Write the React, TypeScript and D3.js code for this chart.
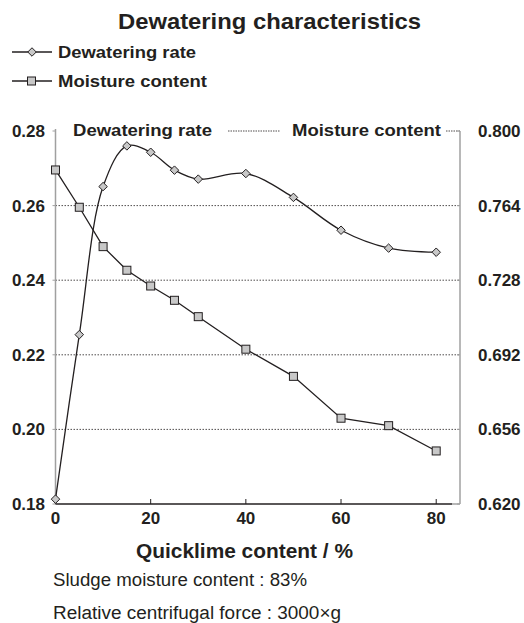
import React from "react";
import * as d3 from "d3";

const quicklime = [0, 5, 10, 15, 20, 25, 30, 40, 50, 60, 70, 80];
const dewateringRate = [0.1813, 0.2254, 0.2651, 0.276, 0.2743, 0.2695, 0.2671, 0.2686, 0.2622, 0.2534, 0.2486, 0.2475];
const moistureContent = [0.7812, 0.7632, 0.7442, 0.7328, 0.7252, 0.7183, 0.7104, 0.6947, 0.6816, 0.6614, 0.6578, 0.6456];
const xTicks = [0, 20, 40, 60, 80];
const leftTicks = [0.18, 0.2, 0.22, 0.24, 0.26, 0.28];
const rightTicks = [0.62, 0.656, 0.692, 0.728, 0.764, 0.8];

const W = 524, H = 623;
const L = 55.5, R = 460, T = 131, B = 504;

export default function App() {
  const x = d3.scaleLinear().domain([0, 85]).range([L, R]);
  const yL = d3.scaleLinear().domain([0.18, 0.28]).range([B, T]);
  const yR = d3.scaleLinear().domain([0.62, 0.8]).range([B, T]);
  const dwLine = d3.line<number>().x((_, i) => x(quicklime[i])).y((d) => yL(d)).curve(d3.curveCatmullRom.alpha(0.5));
  const mcLine = d3.line<number>().x((_, i) => x(quicklime[i])).y((d) => yR(d));
  const font = "Liberation Sans, Arial, sans-serif";
  const ink = "#231f20";
  const gray = "#a0a0a0";
  const gridTicks = leftTicks.filter((t) => t > 0.185 && t < 0.275);
  const diamond = d3.symbol(d3.symbolDiamond2, 46)()!;
  return (
    <svg width={W} height={H} style={{ position: "absolute", left: 0, top: 0 }} fontFamily={font}>
      <rect width={W} height={H} fill="#fff" />
      <text x={118} y={29} fontWeight="bold" fontSize={22} fill={ink} textLength={303} lengthAdjust="spacingAndGlyphs">Dewatering characteristics</text>
      {/* legend */}
      <line x1={12} x2={52} y1={52} y2={52} stroke={ink} strokeWidth={1.3} />
      <path d={diamond} transform="translate(32,52)" fill="#c8c8c8" stroke={ink} strokeWidth={1} />
      <text x={58} y={58} fontWeight="bold" fontSize={17} fill={ink} textLength={138} lengthAdjust="spacingAndGlyphs">Dewatering rate</text>
      <line x1={12} x2={52} y1={81} y2={81} stroke={ink} strokeWidth={1.3} />
      <rect x={27.5} y={77} width={8} height={8} fill="#c8c8c8" stroke={ink} strokeWidth={1} />
      <text x={58} y={87} fontWeight="bold" fontSize={17} fill={ink} textLength={149} lengthAdjust="spacingAndGlyphs">Moisture content</text>

      {/* grid */}
      {gridTicks.map((t) => (
        <line key={t} x1={L} x2={R} y1={yL(t)} y2={yL(t)} stroke={ink} strokeWidth={0.8} strokeDasharray="1.5,1.5" />
      ))}
      <line x1={228} x2={280} y1={T} y2={T} stroke={ink} strokeWidth={0.8} strokeDasharray="1.5,1" />
      <line x1={446} x2={R} y1={T} y2={T} stroke={ink} strokeWidth={0.8} strokeDasharray="1.5,1" />
      {/* axes */}
      <line x1={L} x2={L} y1={T - 2} y2={B} stroke={gray} strokeWidth={1.5} />
      <line x1={R} x2={R} y1={T} y2={B} stroke={gray} strokeWidth={1.5} />
      {leftTicks.map((t) => (
        <line key={t} x1={L - 3} x2={L} y1={yL(t)} y2={yL(t)} stroke={gray} strokeWidth={1} />
      ))}
      {rightTicks.map((t) => (
        <line key={t} x1={R} x2={R - 3} y1={yR(t)} y2={yR(t)} stroke={gray} strokeWidth={1} />
      ))}
      <line x1={L} x2={452} y1={B} y2={B} stroke={ink} strokeWidth={1.5} />
      <line x1={452} x2={R} y1={B} y2={B} stroke={gray} strokeWidth={1.5} />
      {xTicks.map((t) => (
        <line key={t} x1={x(t)} x2={x(t)} y1={B} y2={B - 5} stroke={ink} strokeWidth={1} />
      ))}
      {/* tick labels */}
      {leftTicks.map((t) => (
        <text key={t} x={45} y={yL(t) + 6} textAnchor="end" fontWeight="bold" fontSize={17} fill={ink}>{t.toFixed(2)}</text>
      ))}
      {rightTicks.map((t) => (
        <text key={t} x={478} y={yR(t) + 6} textAnchor="start" fontWeight="bold" fontSize={17} fill={ink}>{t.toFixed(3)}</text>
      ))}
      {xTicks.map((t) => (
        <text key={t} x={x(t)} y={524} textAnchor="middle" fontWeight="bold" fontSize={17} fill={ink}>{t}</text>
      ))}
      {/* inner axis titles */}
      <text x={73} y={136} fontWeight="bold" fontSize={17} fill={ink} textLength={139} lengthAdjust="spacingAndGlyphs">Dewatering rate</text>
      <text x={292} y={136} fontWeight="bold" fontSize={17} fill={ink} textLength={149} lengthAdjust="spacingAndGlyphs">Moisture content</text>

      {/* series */}
      <path d={mcLine(moistureContent)!} fill="none" stroke={ink} strokeWidth={1.3} />
      <path d={dwLine(dewateringRate)!} fill="none" stroke={ink} strokeWidth={1.3} />
      {moistureContent.map((v, i) => (
        <rect key={i} x={x(quicklime[i]) - 4} y={yR(v) - 4} width={8} height={8} fill="#c8c8c8" stroke={ink} strokeWidth={1} />
      ))}
      {dewateringRate.map((v, i) => (
        <path key={i} d={diamond} transform={`translate(${x(quicklime[i])},${yL(v)})`} fill="#c8c8c8" stroke={ink} strokeWidth={1} />
      ))}

      <text x={136} y={558} fontWeight="bold" fontSize={20} fill={ink} textLength={217} lengthAdjust="spacingAndGlyphs">Quicklime content / %</text>
      <text x={53} y={586} fontSize={18} fill={ink} textLength={254} lengthAdjust="spacingAndGlyphs">Sludge moisture content : 83%</text>
      <text x={53} y={619} fontSize={18} fill={ink} textLength={288} lengthAdjust="spacingAndGlyphs">Relative centrifugal force : 3000×g</text>
    </svg>
  );
}
